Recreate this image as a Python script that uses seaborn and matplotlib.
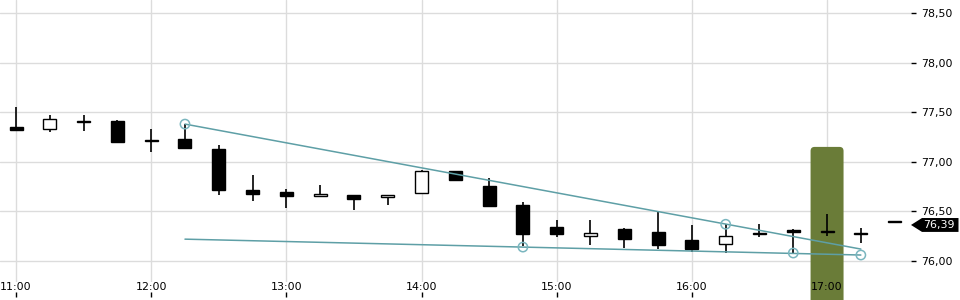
import numpy as np
import pandas as pd
import matplotlib
matplotlib.use("Agg")
import matplotlib.pyplot as plt
import matplotlib.transforms as mtransforms
from matplotlib.patches import FancyBboxPatch, Polygon
import seaborn as sns

# ---------------- data ----------------
times = ["11:00", "11:15", "11:30", "11:45", "12:00", "12:15", "12:30", "12:45",
         "13:00", "13:15", "13:30", "13:45", "14:00", "14:15", "14:30", "14:45",
         "15:00", "15:15", "15:30", "15:45", "16:00", "16:15", "16:30", "16:45",
         "17:00", "17:15", "17:30"]
opens = [77.35, 77.33, 77.40, 77.41, 77.21, 77.23, 77.13, 76.72,
         76.70, 76.66, 76.67, 76.64, 76.69, 76.91, 76.76, 76.56,
         76.34, 76.25, 76.32, 76.29, 76.21, 76.17, 76.27, 76.31,
         76.29, 76.27, 76.39]
highs = [77.55, 77.47, 77.47, 77.42, 77.33, 77.38, 77.17, 76.87,
         76.73, 76.77, 76.67, 76.67, 76.92, 76.91, 76.84, 76.59,
         76.41, 76.41, 76.33, 76.50, 76.36, 76.37, 76.37, 76.32,
         76.47, 76.33, 76.39]
lows = [77.31, 77.30, 77.31, 77.20, 77.10, 77.14, 76.67, 76.60,
        76.53, 76.66, 76.51, 76.56, 76.69, 76.81, 76.55, 76.15,
        76.24, 76.16, 76.13, 76.12, 76.09, 76.08, 76.24, 76.08,
        76.25, 76.18, 76.39]
closes = [77.32, 77.43, 77.40, 77.20, 77.21, 77.14, 76.72, 76.68,
          76.65, 76.68, 76.62, 76.67, 76.91, 76.82, 76.55, 76.27,
          76.27, 76.28, 76.22, 76.16, 76.12, 76.25, 76.27, 76.29,
          76.29, 76.27, 76.39]

x_tick_labels = ["11:00", "12:00", "13:00", "14:00", "15:00", "16:00", "17:00"]
y_ticks = [76.0, 76.5, 77.0, 77.5, 78.0, 78.5]

upper_line_t = ["12:15", "17:15"]
upper_line_v = [77.38, 76.12]
lower_line_t = ["12:15", "17:15"]
lower_line_v = [76.22, 76.06]
marker_t = ["12:15", "16:15", "14:45", "16:45", "17:15"]
marker_v = [77.38, 76.37, 76.14, 76.08, 76.06]

highlight_time = "17:00"
highlight_top = 77.15
last_price = 76.39
last_label = "76,39"


def to_hours(s):
    h, m = s.split(":")
    return int(h) + int(m) / 60.0


df = pd.DataFrame({"t": [to_hours(s) for s in times], "open": opens,
                   "high": highs, "low": lows, "close": closes})

# ---------------- style ----------------
sns.set_theme(style="white")
plt.rcParams["font.family"] = ["DejaVu Sans"]
FS = 7.9
GRID = "#dcdcdc"
TEAL = "#5e9fa6"
TEAL_M = "#7ab6bf"
GREEN = "#6a7c38"

fig = plt.figure(figsize=(9.6, 3.0), dpi=100)
ax = fig.add_axes([0, 18 / 300, 911 / 960, 282 / 300])
ax.set_axisbelow(False)

ax.set_xlim(10.8816, 17.621)
ax.set_ylim(75.788, 78.631)
for s in ax.spines.values():
    s.set_visible(False)
ax.grid(False)

xt = [to_hours(s) for s in x_tick_labels]
for v in xt:
    ax.axvline(v, color=GRID, lw=1, zorder=0.5)
for v in y_ticks:
    ax.axhline(v, color=GRID, lw=1, zorder=0.5)

# highlight band
ht = to_hours(highlight_time)
hw = 0.244
ax.add_patch(FancyBboxPatch((ht - hw / 2, 75.5), hw, highlight_top - 75.5,
                            boxstyle="round,pad=0,rounding_size=0.03",
                            mutation_aspect=135.17 / 99.2,
                            facecolor=GREEN, edgecolor="none",
                            zorder=1, clip_on=False))

# candles
bw = 0.0962
ax.vlines(df["t"], df["low"], df["high"], color="black", lw=1.2, zorder=3)
bottoms = np.minimum(df["open"], df["close"])
heights = np.maximum(np.abs(df["close"] - df["open"]), 0.008)
faces = ["black" if c < o else "white" for o, c in zip(df["open"], df["close"])]
ax.bar(df["t"], heights, width=bw, bottom=bottoms, color=faces,
       edgecolor="black", linewidth=1, zorder=4)

# trend lines
sns.lineplot(x=[to_hours(s) for s in upper_line_t], y=upper_line_v, ax=ax,
             color=TEAL, lw=1.1, zorder=5)
sns.lineplot(x=[to_hours(s) for s in lower_line_t], y=lower_line_v, ax=ax,
             color=TEAL, lw=1.1, zorder=5)
sns.scatterplot(x=[to_hours(s) for s in marker_t], y=marker_v, ax=ax,
                s=45, facecolors="none", edgecolor=TEAL_M, linewidth=1.1,
                zorder=6)

# axes ticks
ax.set_xticks(xt)
ax.set_xticklabels(x_tick_labels)
ax.tick_params(axis="x", length=0, pad=0, labelsize=FS, labelcolor="black")
ax.yaxis.tick_right()
ax.set_yticks(y_ticks)
ax.set_yticklabels([f"{v:.2f}".replace(".", ",") for v in y_ticks])
ax.tick_params(axis="y", length=3.6, width=1, pad=3.8, labelsize=FS,
               color="black", labelcolor="black")
ax.set_xlabel("")
ax.set_ylabel("")

sec = ax.secondary_xaxis(-15 / 282)
sec.set_xticks(xt)
sec.tick_params(direction="in", length=3.6, width=1, color="black",
                labelbottom=False)
sec.spines["bottom"].set_visible(False)

# last price label
tr = mtransforms.blended_transform_factory(fig.dpi_scale_trans, ax.transData)
yc = last_price - 0.027
hh = 0.07
ax.add_patch(Polygon([(9.11, yc), (9.22, yc + hh), (9.585, yc + hh),
                      (9.585, yc - hh), (9.22, yc - hh)], closed=True,
                     transform=tr, facecolor="black", edgecolor="none",
                     clip_on=False, zorder=7))
ax.text(9.39, yc, last_label, transform=tr, color="white", fontsize=FS,
        ha="center", va="center", zorder=8, clip_on=False)

fig.savefig("out.png", dpi=100)
